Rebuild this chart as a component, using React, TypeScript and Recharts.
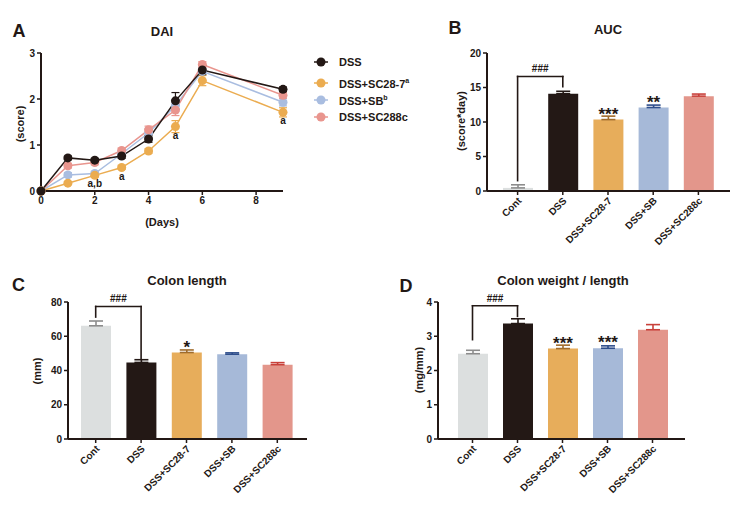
import React from "react";
import {
  LineChart, Line, BarChart, Bar, XAxis, YAxis, ErrorBar, Cell,
  LabelList, Legend, ReferenceLine,
} from "recharts";

// ---- DAI (panel A) ----
const days = [0, 1, 2, 3, 4, 5, 6, 9];
const daiDss = [0, 0.72, 0.67, 0.76, 1.13, 1.96, 2.63, 2.21];
const daiDssErr = [0, 0.04, 0.04, 0.05, 0.07, 0.18, 0.1, 0.05];
const daiSc287 = [0, 0.17, 0.34, 0.51, 0.87, 1.4, 2.4, 1.71];
const daiSc287Err = [0, 0.03, 0.04, 0.04, 0.05, 0.13, 0.11, 0.1];
const daiSb = [0, 0.35, 0.38, 0.81, 1.26, 1.86, 2.6, 1.93];
const daiSbErr = [0, 0.05, 0.04, 0.05, 0.1, 0.12, 0.08, 0.08];
const daiSc288c = [0, 0.55, 0.62, 0.88, 1.33, 1.76, 2.75, 2.08];
const daiSc288cErr = [0, 0.05, 0.05, 0.05, 0.08, 0.12, 0.06, 0.06];
const daiSig = ["", "", "a,b", "a", "", "a", "", "a"];

// ---- bar panels ----
const groups = ["Cont", "DSS", "DSS+SC28-7", "DSS+SB", "DSS+SC288c"];
const aucMean = [0.45, 14.1, 10.35, 12.1, 13.75];
const aucErr = [0.45, 0.35, 0.5, 0.35, 0.3];
const aucSig = ["", "", "***", "**", ""];
const lenMean = [66.1, 44.7, 50.5, 49.5, 43.4];
const lenErr = [2.8, 1.6, 1.5, 0.8, 1.2];
const lenSig = ["", "", "*", "", ""];
const wtMean = [2.49, 3.37, 2.64, 2.65, 3.19];
const wtErr = [0.1, 0.14, 0.1, 0.07, 0.15];
const wtSig = ["", "", "***", "***", ""];

const INK = "#231815";
const FONT = "'Liberation Sans', Arial, Helvetica, sans-serif";
const barFill = ["#DCDFDF", "#231815", "#E7AD5B", "#A6B9D8", "#E3968B"];
const errColor = ["#8c8c8c", "#231815", "#a06c2c", "#2e4e8c", "#c8403a"];
const lineColor = ["#231815", "#EBAC50", "#A9BDE0", "#E9958E"];

const legendItems = [
  { name: "DSS", sup: "", color: lineColor[0] },
  { name: "DSS+SC28-7", sup: "a", color: lineColor[1] },
  { name: "DSS+SB", sup: "b", color: lineColor[2] },
  { name: "DSS+SC288c", sup: "", color: lineColor[3] },
];

const tickStyle = { fontSize: 10, fontWeight: "bold", fill: INK };
const axisLine = { stroke: INK, strokeWidth: 2 };
const tickLine = { stroke: INK, strokeWidth: 1.5 };

const Txt = ({ x, y, size, rot, children }: any) => (
  <div
    style={{
      position: "absolute", left: x, top: y, fontSize: size, whiteSpace: "nowrap",
      transform: `translate(-50%,-50%)${rot ? " rotate(-90deg)" : ""}`, lineHeight: 1,
    }}
  >
    {children}
  </div>
);

const RotTick = (props: any) => {
  const { x, y, payload } = props;
  return (
    <text
      transform={`translate(${x + 2},${y + 2}) rotate(-45)`}
      textAnchor="end" dy="0.35em" fontSize={10} fontWeight="bold" fill={INK}
    >
      {payload.value}
    </text>
  );
};

const DaiLegend = () => (
  <div style={{ fontSize: 11, fontWeight: "bold", color: INK }}>
    {legendItems.map((it, i) => (
      <div key={it.name} style={{ display: "flex", alignItems: "center", height: 17, marginBottom: i === 0 ? 4 : 0 }}>
        <svg width={20} height={12} style={{ marginRight: 6 }}>
          <line x1={1} y1={6} x2={15} y2={6} stroke={it.color} strokeWidth={1.5} />
          <circle cx={8} cy={6} r={4.5} fill={it.color} />
        </svg>
        <span>
          {it.name}
          {it.sup && <sup style={{ fontSize: 7 }}>{it.sup}</sup>}
        </span>
      </div>
    ))}
  </div>
);

function DaiChart() {
  const rows = days.map((d, i) => ({
    day: d,
    dss: daiDss[i], dssErr: daiDssErr[i],
    sc287: daiSc287[i], sc287Err: daiSc287Err[i],
    sb: daiSb[i], sbErr: daiSbErr[i],
    sc288c: daiSc288c[i], sc288cErr: daiSc288cErr[i],
    sig: daiSig[i],
  }));
  const series = [
    { key: "sb", c: lineColor[2] },
    { key: "sc288c", c: lineColor[3] },
    { key: "sc287", c: lineColor[1] },
    { key: "dss", c: lineColor[0] },
  ];
  return (
    <div style={{ position: "absolute", left: 0, top: 0 }}>
      <LineChart width={420} height={240} data={rows} margin={{ top: 53, right: 137, left: 16, bottom: 29 }}>
        <XAxis
          type="number" dataKey="day" domain={[0, 9]} ticks={[0, 2, 4, 6, 8]} height={20}
          tick={tickStyle} axisLine={axisLine} tickLine={tickLine} tickSize={4}
        />
        <YAxis
          domain={[0, 3]} ticks={[0, 1, 2, 3]} width={25}
          tick={tickStyle} axisLine={axisLine} tickLine={tickLine} tickSize={4}
        />
        <Legend
          layout="vertical" align="center" verticalAlign="middle"
          wrapperStyle={{ left: 313, top: 53.5, width: 110 }}
          content={() => <DaiLegend />}
        />
        {series.map((s) => (
          <Line
            key={s.key} dataKey={s.key} stroke={s.c} strokeWidth={1.5} isAnimationActive={false}
            dot={{ r: 4.5, fill: s.c, stroke: s.c, strokeWidth: 0 }} activeDot={false}
          >
            <ErrorBar dataKey={s.key + "Err"} direction="y" width={4} stroke={s.c} strokeWidth={1.2} />
            {s.key === "sc287" && (
              <LabelList dataKey="sig" position="bottom" offset={5} fontSize={10} fontWeight="bold" fill={INK} />
            )}
          </Line>
        ))}
      </LineChart>
    </div>
  );
}

function BarPanel(p: any) {
  // one error key per group so each cap keeps its own colour; [below, above] = upward-only bar
  const rows = groups.map((g, i) => {
    const r: Record<string, any> = { name: g, mean: p.mean[i], sig: p.sig[i] };
    r["e" + i] = [0, p.err[i]];
    return r;
  });
  const pad = { left: p.padL, right: p.padR };
  const [yTop, yLeft, yRight] = p.bracket;
  const lineProps = { stroke: INK, strokeWidth: 1.6, strokeLinecap: "square" as const };
  return (
    <div style={{ position: "absolute", left: p.left, top: p.top }}>
      <BarChart width={p.width} height={p.height} data={rows} margin={p.margin}>
        <XAxis
          dataKey="name" padding={pad} height={50} interval={0}
          tick={<RotTick />} axisLine={axisLine} tickLine={tickLine} tickSize={4}
        />
        <YAxis
          domain={p.domain} ticks={p.ticks} width={30}
          tick={tickStyle} axisLine={axisLine} tickLine={tickLine} tickSize={4}
        />
        <Bar dataKey="mean" barSize={30} isAnimationActive={false}>
          {groups.map((g, i) => <Cell key={g} fill={barFill[i]} />)}
          {groups.map((g, i) => (
            <ErrorBar key={g} dataKey={"e" + i} direction="y" width={7} stroke={errColor[i]} strokeWidth={1.6} />
          ))}
          <LabelList dataKey="sig" position="top" offset={0} fontSize={17} fontWeight="bold" fill={INK} />
        </Bar>
        <ReferenceLine
          segment={[{ x: groups[0], y: yTop }, { x: groups[1], y: yTop }]} {...lineProps}
          label={{ value: "###", position: "top", offset: 4, fontSize: 10, fontWeight: "bold", fill: INK }}
        />
        <ReferenceLine segment={[{ x: groups[0], y: yLeft }, { x: groups[0], y: yTop }]} {...lineProps} />
        <ReferenceLine segment={[{ x: groups[1], y: yRight }, { x: groups[1], y: yTop }]} {...lineProps} />
      </BarChart>
    </div>
  );
}

export default function App() {
  return (
    <div style={{ position: "relative", width: 743, height: 509, background: "#fff", fontFamily: FONT, fontWeight: "bold", color: INK, overflow: "hidden" }}>
      <style>{"body{margin:0}"}</style>
      <DaiChart />
      <BarPanel
        left={400} top={0} width={343} height={260}
        margin={{ top: 53, right: 13, left: 57, bottom: 19 }}
        mean={aucMean} err={aucErr} sig={aucSig}
        domain={[0, 20]} ticks={[0, 5, 10, 15, 20]} padL={8} padR={9}
        bracket={[16.6, 1.5, 15.1]}
      />
      <BarPanel
        left={0} top={250} width={370} height={259}
        margin={{ top: 52, right: 63, left: 38, bottom: 20 }}
        mean={lenMean} err={lenErr} sig={lenSig}
        domain={[0, 80]} ticks={[0, 20, 40, 60, 80]} padL={5} padR={7}
        bracket={[77.4, 71.2, 46.6]}
      />
      <BarPanel
        left={370} top={250} width={373} height={259}
        margin={{ top: 52, right: 58, left: 38, bottom: 20 }}
        mean={wtMean} err={wtErr} sig={wtSig}
        domain={[0, 4]} ticks={[0, 1, 2, 3, 4]} padL={12} padR={10}
        bracket={[3.89, 2.9, 3.58]}
      />

      <Txt x={19} y={31} size={18}>A</Txt>
      <Txt x={455} y={28} size={18}>B</Txt>
      <Txt x={18.5} y={285} size={18}>C</Txt>
      <Txt x={406} y={286} size={18}>D</Txt>

      <Txt x={162} y={31} size={13}>DAI</Txt>
      <Txt x={608} y={29} size={13}>AUC</Txt>
      <Txt x={187} y={280} size={13}>Colon length</Txt>
      <Txt x={563} y={280} size={13}>Colon weight / length</Txt>

      <Txt x={20} y={124} size={11} rot>(score)</Txt>
      <Txt x={162} y={222} size={11}>(Days)</Txt>
      <Txt x={461} y={121} size={11} rot>(score*day)</Txt>
      <Txt x={37} y={371} size={11} rot>(mm)</Txt>
      <Txt x={419} y={370} size={11} rot>(mg/mm)</Txt>
    </div>
  );
}
